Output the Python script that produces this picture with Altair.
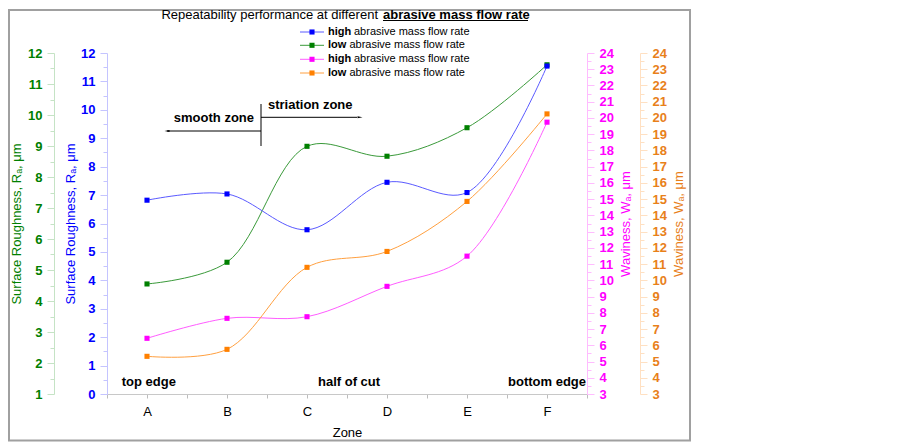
import altair as alt
import pandas as pd

# ---- data ----
zones = ["A", "B", "C", "D", "E", "F"]
ra_high = [6.82, 7.04, 5.78, 7.45, 7.09, 11.54]   # blue, left inner axis (0-12)
ra_low = [4.55, 5.25, 8.99, 8.67, 9.59, 11.62]    # green, left outer axis (1-12)
wa_high = [6.43, 7.66, 7.76, 9.63, 11.49, 19.74]  # magenta, right inner axis (3-24)
wa_low = [5.32, 5.75, 10.80, 11.78, 14.86, 20.25] # orange, right outer axis (3-24)

legend_bold = ["high", "low", "high", "low"]
legend_rest = " abrasive mass flow rate"

pos = list(range(1, len(zones) + 1))
FONT = "Liberation Sans"

zone_arr = "[" + ",".join("'" + z + "'" for z in zones) + "]"
xscale = alt.Scale(domain=[0.5, len(zones) + 0.5], nice=False, zero=False)
xaxis = alt.Axis(
    values=[0.5 + 0.5 * i for i in range(2 * len(zones) + 1)],
    labelExpr="datum.value % 1 == 0 ? " + zone_arr + "[datum.value - 1] : ''",
    title="Zone", titleFontWeight="normal", titleFontSize=13, titlePadding=8,
    labelFontSize=13, labelColor="black", labelPadding=7, labelOverlap=False,
    tickSize=4, tickColor="#bdbdbd", domainColor="#c8c8c8", grid=False, labelAngle=0,
)


def yaxis(lo, hi, orient, offset, color, light, title, tpad):
    vals = [lo + 0.5 * i for i in range(int((hi - lo) * 2) + 1)]
    extra = {"titleAngle": 270, "titleBaseline": "top"} if orient == "right" else {}
    return alt.Axis(
        orient=orient, offset=offset, values=vals,
        labelExpr="datum.value % 1 == 0 ? datum.value : ''",
        labelOverlap=False, labelFontSize=13, labelFontWeight="bold", labelColor=color,
        labelPadding=5, tickColor=light, domainColor=light, grid=False,
        tickSize={"condition": {"test": "datum.value % 1 != 0", "value": 4}, "value": 7},
        title=title, titleColor=color, titleFontSize=13, titleFontWeight="normal",
        titlePadding=tpad, **extra,
    )


def series(vals, domain, axis, line_color, mark_color):
    df = pd.DataFrame({"pos": pos, "v": vals})
    return alt.Chart(df).mark_line(
        interpolate="catmull-rom", color=line_color, strokeWidth=1,
        point=alt.OverlayMarkDef(shape="square", size=26, filled=True, color=mark_color, opacity=1),
    ).encode(
        x=alt.X("pos:Q", scale=xscale, axis=xaxis),
        y=alt.Y("v:Q", scale=alt.Scale(domain=domain, nice=False, zero=False), axis=axis),
    )


green = series(ra_low, [1, 12], yaxis(1, 12, "left", 53, "#008000", "#c5e3c5",
               "Surface Roughness, Rₐ, μm", 4), "#3a9a3a", "#008000")
blue = series(ra_high, [0, 12], yaxis(0, 12, "left", 0, "#0000ff", "#c4c4ff",
              "Surface Roughness, Rₐ, μm", 3), "#5a5aff", "#0000ff")
magenta = series(wa_high, [3, 24], yaxis(3, 24, "right", 0, "#ff00ff", "#ffbcff",
                 "Waviness, Wₐ, μm", 6), "#ff5cff", "#ff00ff")
orange = series(wa_low, [3, 24], yaxis(3, 24, "right", 53, "#e8801a", "#ffe0c2",
                "Waviness, Wₐ, μm", 6), "#ffa040", "#ff8000")

one = pd.DataFrame({"a": [0]})


def txt(s, x, y, weight="normal", size=13, align="left", baseline="alphabetic", color="black"):
    return alt.Chart(pd.DataFrame({"t": [s]})).mark_text(
        font=FONT, fontSize=size, fontWeight=weight, align=align, baseline=baseline, color=color
    ).encode(text="t:N", x=alt.value(x), y=alt.value(y))


def rule(x, x2, y, y2, color="black", w=1):
    return alt.Chart(one).mark_rule(color=color, strokeWidth=w).encode(
        x=alt.value(x), x2=alt.value(x2), y=alt.value(y), y2=alt.value(y2))


frame = alt.Chart(one).mark_rect(fillOpacity=0, stroke="#a0a0a0", strokeWidth=2).encode(
    x=alt.value(-98), x2=alt.value(583), y=alt.value(-43), y2=alt.value(387.5))

ann = [
    txt("Repeatability performance at different", 271, -34.5, align="right"),
    txt("abrasive mass flow rate", 276, -34.5, weight="bold"),
    rule(276, 421, -32.5, -32.5),
    txt("smooth zone", 147, 69, weight="bold", align="right"),
    txt("striation zone", 161, 56, weight="bold"),
    rule(154, 60, 78, 78),
    rule(154, 250, 64.3, 64.3),
    rule(154, 154, 51, 93),
    alt.Chart(one).mark_point(shape="M-1,0L1,-0.4L1,0.4Z", size=25, filled=True, color="black", opacity=1)
    .encode(x=alt.value(60), y=alt.value(78)),
    alt.Chart(one).mark_point(shape="M1,0L-1,-0.4L-1,0.4Z", size=25, filled=True, color="black", opacity=1)
    .encode(x=alt.value(253), y=alt.value(64.3)),
    txt("top edge", 14.7, 332.6, weight="bold"),
    txt("half of cut", 211, 332.6, weight="bold"),
    txt("bottom edge", 479, 332.6, weight="bold", align="right"),
]

leg_colors = [("#5a5aff", "#0000ff"), ("#3a9a3a", "#008000"), ("#ff5cff", "#ff00ff"), ("#ffa040", "#ff8000")]
leg_y = [-21, -7.7, 6.3, 20]
for b, (lc, mc), yy in zip(legend_bold, leg_colors, leg_y):
    ann.append(rule(193, 217, yy, yy, color=lc))
    ann.append(alt.Chart(one).mark_point(shape="square", size=26, filled=True, color=mc, opacity=1)
               .encode(x=alt.value(205), y=alt.value(yy)))
    ann.append(txt(b, 221, yy, weight="bold", size=11, baseline="middle"))
    ann.append(txt(legend_rest.strip(), 221 + (26 if b == "high" else 21.4), yy, size=11, baseline="middle"))

chart = alt.layer(frame, green, blue, magenta, orange, *ann).resolve_scale(y="independent").properties(
    width=480, height=341,
    autosize=alt.AutoSizeParams(type="none"),
    padding={"left": 99, "top": 45, "right": 300, "bottom": 49},
).configure(font=FONT).configure_view(strokeWidth=0)

chart.save("out.html", embed_options={"renderer": "svg", "actions": False})
